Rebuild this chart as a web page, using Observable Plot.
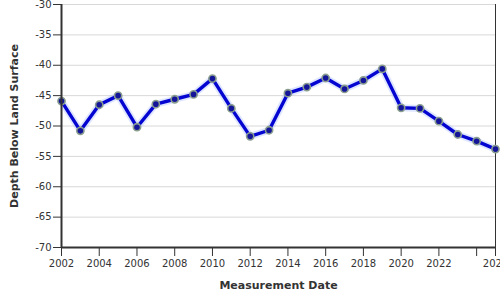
<!DOCTYPE html>
<html>
<head>
<meta charset="utf-8">
<script src="https://cdn.jsdelivr.net/npm/d3@7"></script>
<script src="https://cdn.jsdelivr.net/npm/@observablehq/plot@0.6"></script>
<style>
  html, body { margin: 0; padding: 0; background: #fff; }
  #chart { width: 500px; height: 300px; overflow: hidden; }
</style>
</head>
<body>
<div id="chart"></div>
<script>
const years = [2002, 2003, 2004, 2005, 2006, 2007, 2008, 2009, 2010, 2011, 2012, 2013,
               2014, 2015, 2016, 2017, 2018, 2019, 2020, 2021, 2022, 2023, 2024, 2025];
const depths = [-45.9, -50.8, -46.5, -45.0, -50.2, -46.4, -45.6, -44.8, -42.2, -47.1, -51.7, -50.7,
                -44.6, -43.6, -42.1, -43.9, -42.5, -40.6, -47.0, -47.1, -49.2, -51.4, -52.5, -53.8];
const xTicks = [2002, 2004, 2006, 2008, 2010, 2012, 2014, 2016, 2018, 2020, 2022, 2024, 2025];
const xTickLabels = ["2002", "2004", "2006", "2008", "2010", "2012", "2014", "2016", "2018", "2020", "2022", "", "2025"];
const yTicks = [-70, -65, -60, -55, -50, -45, -40, -35, -30];

const data = years.map((y, i) => ({year: y, depth: depths[i]}));

const chart = Plot.plot({
  width: 500,
  height: 300,
  marginLeft: 61,
  marginRight: 5,
  marginTop: 4,
  marginBottom: 53,
  style: {fontFamily: "DejaVu Sans, Verdana, sans-serif", fontSize: "10px", color: "#333", background: "#fff", overflow: "visible"},
  x: {domain: [2002, 2025], label: null},
  y: {domain: [-70, -30], label: null},
  marks: [
    Plot.gridY(yTicks, {stroke: "#d8d8d8", strokeOpacity: 1, strokeWidth: 1}),
    Plot.ruleX([2025], {stroke: "#333", strokeWidth: 1}),
    Plot.axisY({ticks: yTicks, tickSize: 8, tickPadding: 2, tickFormat: d => String(d), stroke: "#333", fill: "#333", label: null}),
    Plot.axisX({ticks: xTicks, tickSize: 9, tickPadding: 3, tickFormat: d => xTickLabels[xTicks.indexOf(d)], stroke: "#333", fill: "#333", label: null}),
    Plot.line(data, {x: "year", y: "depth", stroke: "#9fb4ff", strokeWidth: 7, strokeOpacity: 0.35}),
    Plot.line(data, {x: "year", y: "depth", stroke: "#0505d2", strokeWidth: 3.4}),
    Plot.dot(data, {x: "year", y: "depth", r: 3.6, fill: "#15159a", stroke: "#8a9e8e", strokeWidth: 1.6}),
    Plot.ruleX([2002], {stroke: "#333", strokeWidth: 2}),
    Plot.ruleY([-70], {stroke: "#333", strokeWidth: 2}),
    Plot.text(["Measurement Date"], {frameAnchor: "bottom", dy: 41, fontWeight: "bold", fontSize: 11, fill: "#333"}),
    Plot.text(["Depth Below Land Surface"], {frameAnchor: "left", dx: -47, rotate: -90, textAnchor: "middle", fontWeight: "bold", fontSize: 11, fill: "#333"})
  ]
});
document.getElementById("chart").appendChild(chart);
</script>
</body>
</html>
